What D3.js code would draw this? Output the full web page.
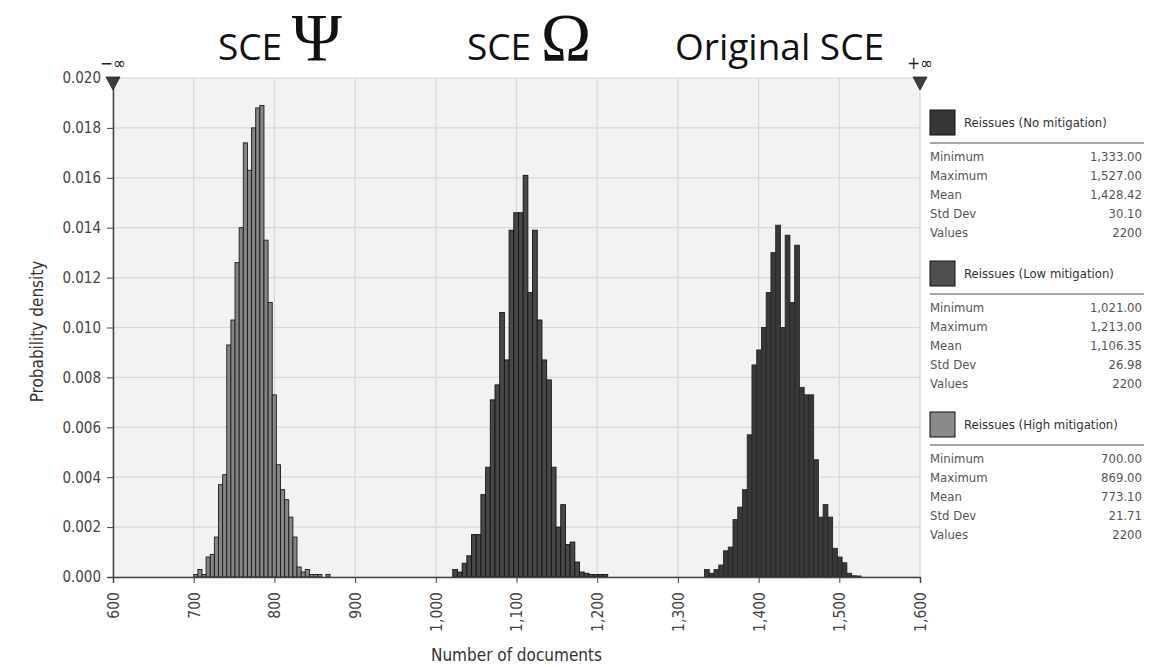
<!DOCTYPE html>
<html>
<head>
  <meta charset="utf-8">
</head>
<body>
  <style>
    body {
      margin: 0;
      background-color: #fff;
    }
    text {
      font-family: "DejaVu Sans Condensed", "DejaVu Sans", sans-serif;
    }
  </style>
  <svg id='viz'></svg>

  <script src='https://d3js.org/d3.v7.min.js'></script>
  <script>
    var width = 1171;
    var height = 667;

    // histogram densities, one value per bin, bins spread evenly from min to max
    var highRange = [700, 869];
    var highDensity = [0.0001, 0.0003, 0.0001, 0.0008, 0.0009, 0.0016, 0.0037, 0.0041, 0.0093, 0.0103, 0.0126,
      0.0140, 0.0174, 0.0163, 0.0180, 0.0188, 0.0189, 0.0135, 0.0110, 0.0073, 0.0045, 0.0035, 0.0031,
      0.0024, 0.0016, 0.0004, 0.0002, 0.0003, 0.0001, 0.0001, 0.0001, 0, 0.0001];

    var lowRange = [1021, 1213];
    var lowDensity = [0.0003, 0.0002, 0.00055, 0.00085, 0.0017, 0.0017, 0.0033, 0.0044, 0.0071, 0.0077, 0.0106,
      0.0087, 0.0139, 0.0146, 0.0146, 0.0161, 0.0114, 0.0139, 0.0103, 0.0087, 0.0079, 0.0044, 0.0020,
      0.0029, 0.0013, 0.0014, 0.0006, 0.0002, 0.00015, 0.0001, 0.0001, 0.0001, 0.0001];

    var noRange = [1333, 1527];
    var noDensity = [0.0003, 0.00015, 0.0003, 0.00048, 0.00105, 0.0012, 0.0023, 0.0028, 0.0035, 0.0057, 0.0085,
      0.0091, 0.0100, 0.0114, 0.0130, 0.0141, 0.0100, 0.0137, 0.0110, 0.0133, 0.0076, 0.0073, 0.0073,
      0.0047, 0.0024, 0.0029, 0.0024, 0.00115, 0.0008, 0.00057, 0.00015, 0.00005, 0.00004];

    var xTicks = [600, 700, 800, 900, 1000, 1100, 1200, 1300, 1400, 1500, 1600];
    var yTicks = [0, 0.002, 0.004, 0.006, 0.008, 0.010, 0.012, 0.014, 0.016, 0.018, 0.020];

    var seriesNames = ["Reissues (No mitigation)", "Reissues (Low mitigation)", "Reissues (High mitigation)"];
    var statNames = ["Minimum", "Maximum", "Mean", "Std Dev", "Values"];
    var noStats = ["1,333.00", "1,527.00", "1,428.42", "30.10", "2200"];
    var lowStats = ["1,021.00", "1,213.00", "1,106.35", "26.98", "2200"];
    var highStats = ["700.00", "869.00", "773.10", "21.71", "2200"];

    var titles = [["SCE ", "\u03A8"], ["SCE ", "\u03A9"], ["Original SCE", ""]];

    var margin = { left: 113, right: 251, top: 78, bottom: 90 };

    var svg = d3.select("#viz").attr("width", width).attr("height", height);

    var x = d3.scaleLinear().domain([600, 1600]).range([margin.left, width - margin.right]);
    var y = d3.scaleLinear().domain([0, 0.02]).range([height - margin.bottom, margin.top]);

    // plot background
    svg.append("rect")
      .attr("x", x(600))
      .attr("y", y(0.02))
      .attr("width", x(1600) - x(600))
      .attr("height", y(0) - y(0.02))
      .attr("fill", "#f2f2f2");

    // grid
    svg.append("g").attr("class", "grid")
      .selectAll("line.v")
      .data(xTicks)
      .enter()
      .append("line")
      .attr("x1", function(d) { return x(d); })
      .attr("x2", function(d) { return x(d); })
      .attr("y1", y(0))
      .attr("y2", y(0.02))
      .attr("stroke", "#d8d8d8")
      .attr("stroke-width", 1.2);

    svg.append("g").attr("class", "grid")
      .selectAll("line.h")
      .data(yTicks)
      .enter()
      .append("line")
      .attr("x1", x(600))
      .attr("x2", x(1600))
      .attr("y1", function(d) { return y(d); })
      .attr("y2", function(d) { return y(d); })
      .attr("stroke", "#d8d8d8")
      .attr("stroke-width", 1.2);

    function drawHist(range, density, fill, stroke) {
      var n = density.length;
      var w = (range[1] - range[0]) / n;
      svg.append("g")
        .selectAll("rect")
        .data(density)
        .enter()
        .append("rect")
        .attr("x", function(d, i) { return x(range[0] + i * w); })
        .attr("width", function(d, i) { return x(range[0] + (i + 1) * w) - x(range[0] + i * w); })
        .attr("y", function(d) { return y(d); })
        .attr("height", function(d) { return y(0) - y(d); })
        .attr("fill", fill)
        .attr("stroke", stroke)
        .attr("stroke-width", 0.9)
        .style("display", function(d) { return d > 0 ? null : "none"; });
    }

    drawHist(highRange, highDensity, "#858585", "#1a1a1a");
    drawHist(lowRange, lowDensity, "#474747", "#141414");
    drawHist(noRange, noDensity, "#383838", "#262626");

    // axes
    var yAxis = d3.axisLeft(y)
      .tickValues(yTicks)
      .tickFormat(d3.format(".3f"))
      .tickSize(6)
      .tickPadding(6);

    var gy = svg.append("g")
      .attr("transform", "translate(" + x(600) + ",0)")
      .call(yAxis);
    gy.select(".domain").attr("stroke", "#444").attr("stroke-width", 1.5);
    gy.selectAll(".tick line").attr("stroke", "#444");
    gy.selectAll(".tick text")
      .attr("fill", "#444")
      .style("font-size", "15px");

    var xAxis = d3.axisBottom(x)
      .tickValues(xTicks)
      .tickFormat(d3.format(","))
      .tickSize(6);

    var gx = svg.append("g")
      .attr("transform", "translate(0," + y(0) + ")")
      .call(xAxis);
    gx.select(".domain").attr("stroke", "#444").attr("stroke-width", 1.5);
    gx.selectAll(".tick line").attr("stroke", "#444");
    gx.selectAll(".tick text")
      .attr("fill", "#444")
      .style("font-size", "15.5px")
      .attr("text-anchor", "end")
      .attr("x", 0)
      .attr("y", 0)
      .attr("dy", "0.35em")
      .attr("transform", "translate(0,15) rotate(-90)");

    // axis titles
    svg.append("text")
      .attr("transform", "translate(43," + (y(0.01) + 4) + ") rotate(-90)")
      .attr("text-anchor", "middle")
      .attr("fill", "#333")
      .style("font-size", "17px")
      .text("Probability density");

    svg.append("text")
      .attr("x", x(1100))
      .attr("y", 661)
      .attr("text-anchor", "middle")
      .attr("fill", "#333")
      .style("font-size", "17px")
      .text("Number of documents");

    // infinity markers
    [[600, "\u2212\u221E"], [1600, "+\u221E"]].forEach(function(m) {
      var cx = x(m[0]);
      svg.append("path")
        .attr("d", "M" + (cx - 7) + "," + (y(0.02) - 1) + "L" + (cx + 7) + "," + (y(0.02) - 1) + "L" + cx + "," + (y(0.02) + 12) + "Z")
        .attr("fill", "#3c3c3c")
        .attr("stroke", "#222")
        .attr("stroke-width", 0.8);
      svg.append("text")
        .attr("x", cx)
        .attr("y", y(0.02) - 9)
        .attr("text-anchor", "middle")
        .attr("fill", "#222")
        .style("font-size", "17px")
        .text(m[1]);
    });

    // titles above the distributions
    var titleX = [218, 467, 675];
    titles.forEach(function(t, i) {
      var txt = svg.append("text")
        .attr("x", titleX[i])
        .attr("y", 60)
        .attr("fill", "#111");
      txt.append("tspan")
        .style("font-family", "'Open Sans', sans-serif")
        .style("font-size", "37px")
        .text(t[0]);
      if (t[1]) {
        txt.append("tspan")
          .style("font-family", "'Liberation Serif', serif")
          .style("font-size", "68px")
          .text(t[1]);
      }
    });

    // legend with statistics
    var legendFill = ["#363636", "#4e4e4e", "#8a8a8a"];
    var legendStats = [noStats, lowStats, highStats];
    var lx = 930;
    var lxRight = 1142;

    seriesNames.forEach(function(name, k) {
      var top = 110 + k * 151;
      var g = svg.append("g");
      g.append("rect")
        .attr("x", lx)
        .attr("y", top)
        .attr("width", 25)
        .attr("height", 25)
        .attr("fill", legendFill[k])
        .attr("stroke", "#111")
        .attr("stroke-width", 1);
      g.append("text")
        .attr("x", lx + 34)
        .attr("y", top + 17)
        .attr("fill", "#333")
        .style("font-size", "13px")
        .text(name);
      g.append("line")
        .attr("x1", lx)
        .attr("x2", lxRight + 2)
        .attr("y1", top + 33)
        .attr("y2", top + 33)
        .attr("stroke", "#888")
        .attr("stroke-width", 1.3);
      statNames.forEach(function(s, j) {
        g.append("text")
          .attr("x", lx)
          .attr("y", top + 51 + j * 19)
          .attr("fill", "#555")
          .style("font-size", "13px")
          .text(s);
        g.append("text")
          .attr("x", lxRight)
          .attr("y", top + 51 + j * 19)
          .attr("text-anchor", "end")
          .attr("fill", "#555")
          .style("font-size", "13px")
          .text(legendStats[k][j]);
      });
    });
  </script>
</body>
</html>
